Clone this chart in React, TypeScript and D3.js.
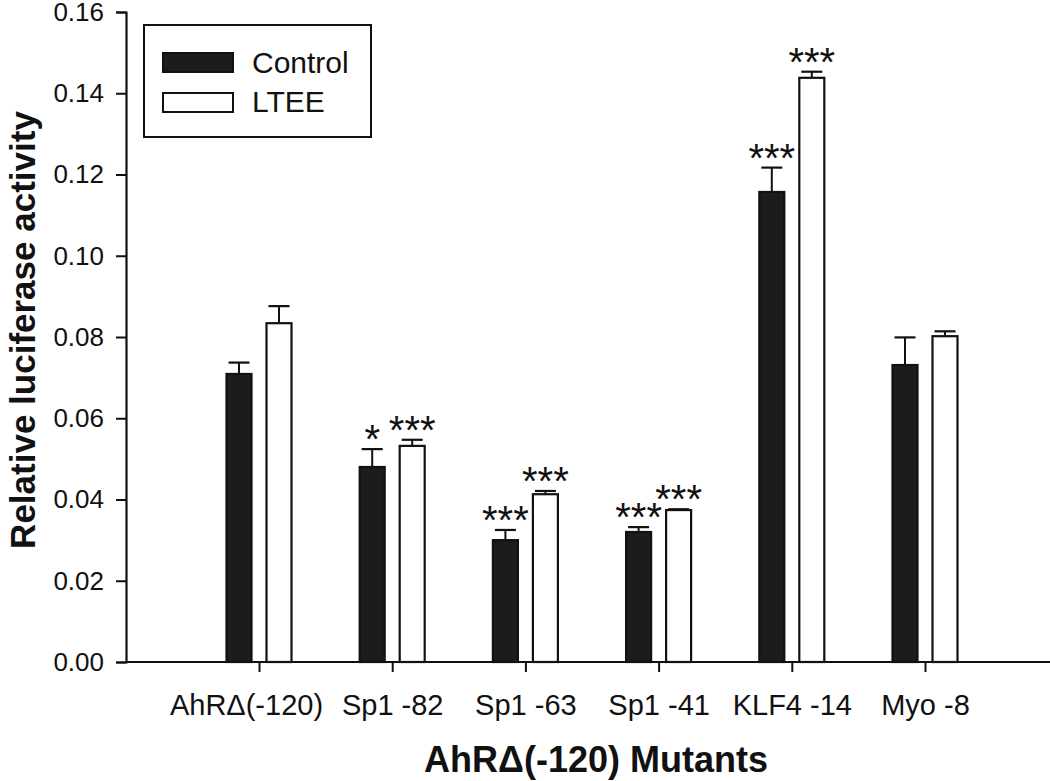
import React, { useRef, useEffect } from "react";
import * as d3 from "d3";

// data
const categories = ["AhRΔ(-120)", "Sp1 -82", "Sp1 -63", "Sp1 -41", "KLF4 -14", "Myo -8"];
const seriesNames = ["Control", "LTEE"];
const controlValues = [0.0709, 0.048, 0.030, 0.032, 0.1157, 0.0731];
const controlErrors = [0.0028, 0.0044, 0.0025, 0.0012, 0.006, 0.0068];
const lteeValues = [0.0834, 0.0532, 0.0413, 0.0374, 0.1438, 0.0802];
const lteeErrors = [0.0042, 0.0015, 0.0008, 0.0002, 0.0015, 0.0012];
const controlStars = ["", "*", "***", "***", "***", ""];
const lteeStars = ["", "***", "***", "***", "***", ""];
const yTicks = [0, 0.02, 0.04, 0.06, 0.08, 0.1, 0.12, 0.14, 0.16];

const W = 1050;
const H = 781;
const FONT = "'Liberation Sans', Arial, Helvetica, sans-serif";

const App = () => {
  const svgRef = useRef<SVGSVGElement>(null);

  useEffect(() => {
    const svg = d3.select(svgRef.current);
    svg.selectAll("*").remove();

    const left = 126;
    const right = W;
    const top = 12;
    const bottom = 662;

    const y = d3.scaleLinear().domain([0, 0.16]).range([bottom, top]);
    const x = d3.scalePoint<string>().domain(categories).range([259, 925]);
    const inner = d3
      .scaleBand<string>()
      .domain(seriesNames)
      .range([-32.5, 32.5])
      .paddingInner(0.375);

    const rows = categories.map((c, i) => ({
      cat: c,
      bars: [
        { s: "Control", v: controlValues[i], e: controlErrors[i], star: controlStars[i] },
        { s: "LTEE", v: lteeValues[i], e: lteeErrors[i], star: lteeStars[i] },
      ],
    }));

    // bars
    const groups = svg
      .append("g")
      .selectAll("g")
      .data(rows)
      .enter()
      .append("g")
      .attr("transform", (d) => `translate(${x(d.cat)},0)`);

    const bar = groups
      .selectAll("g")
      .data((d) => d.bars)
      .enter()
      .append("g");

    const cx = (d: { s: string }) => inner(d.s)! + inner.bandwidth() / 2;

    // error bars (upper only)
    bar
      .append("line")
      .attr("x1", cx)
      .attr("x2", cx)
      .attr("y1", (d) => y(d.v))
      .attr("y2", (d) => y(d.v + d.e))
      .attr("stroke", "#111")
      .attr("stroke-width", 2);
    bar
      .append("line")
      .attr("x1", (d) => cx(d) - 10.5)
      .attr("x2", (d) => cx(d) + 10.5)
      .attr("y1", (d) => y(d.v + d.e))
      .attr("y2", (d) => y(d.v + d.e))
      .attr("stroke", "#111")
      .attr("stroke-width", 2.2);

    bar
      .append("rect")
      .attr("x", (d) => inner(d.s)!)
      .attr("y", (d) => y(d.v))
      .attr("width", inner.bandwidth())
      .attr("height", (d) => y(0) - y(d.v))
      .attr("fill", (d) => (d.s === "Control" ? "#1c1c1c" : "#fff"))
      .attr("stroke", "#111")
      .attr("stroke-width", 2.2);

    // significance stars
    bar
      .append("text")
      .attr("x", cx)
      .attr("y", (d) => y(d.v + d.e) + 4)
      .attr("text-anchor", "middle")
      .attr("font-family", FONT)
      .attr("font-size", 40)
      .attr("fill", "#111")
      .text((d) => d.star);

    // y axis
    const yAxis = svg
      .append("g")
      .attr("transform", `translate(${left},0)`)
      .call(
        d3
          .axisLeft(y)
          .tickValues(yTicks)
          .tickSize(10)
          .tickPadding(12)
          .tickFormat(d3.format(".2f"))
      );
    yAxis.select(".domain").attr("stroke", "#111").attr("stroke-width", 2.2);
    yAxis.selectAll(".tick line").attr("stroke", "#111").attr("stroke-width", 2);
    yAxis
      .selectAll(".tick text")
      .attr("font-family", FONT)
      .attr("font-size", 26)
      .attr("fill", "#111");

    // x axis
    svg
      .append("line")
      .attr("x1", left)
      .attr("x2", right)
      .attr("y1", bottom)
      .attr("y2", bottom)
      .attr("stroke", "#111")
      .attr("stroke-width", 2.2);
    const xAxis = svg
      .append("g")
      .attr("transform", `translate(0,${bottom})`)
      .call(d3.axisBottom(x).tickSize(10).tickPadding(22));
    xAxis.select(".domain").remove();
    xAxis.selectAll(".tick line").attr("stroke", "#111").attr("stroke-width", 2);
    xAxis
      .selectAll(".tick text")
      .attr("font-family", FONT)
      .attr("font-size", 29)
      .attr("fill", "#111")
      .attr("dx", (_, i) => (i === 0 ? -13 : 0));

    // axis titles
    svg
      .append("text")
      .attr("x", 596)
      .attr("y", 772)
      .attr("text-anchor", "middle")
      .attr("font-family", FONT)
      .attr("font-weight", "bold")
      .attr("font-size", 36)
      .attr("fill", "#111")
      .text("AhRΔ(-120) Mutants");

    svg
      .append("text")
      .attr("transform", `translate(35,330) rotate(-90)`)
      .attr("text-anchor", "middle")
      .attr("font-family", FONT)
      .attr("font-weight", "bold")
      .attr("font-size", 35)
      .attr("fill", "#111")
      .text("Relative luciferase activity");

    // legend
    const lg = svg.append("g");
    lg.append("rect")
      .attr("x", 144)
      .attr("y", 25)
      .attr("width", 227)
      .attr("height", 112)
      .attr("fill", "#fff")
      .attr("stroke", "#111")
      .attr("stroke-width", 2);
    seriesNames.forEach((s, i) => {
      lg.append("rect")
        .attr("x", 163)
        .attr("y", 53 + i * 40)
        .attr("width", 70)
        .attr("height", 19)
        .attr("fill", i === 0 ? "#1c1c1c" : "#fff")
        .attr("stroke", "#111")
        .attr("stroke-width", 2);
      lg.append("text")
        .attr("x", 252)
        .attr("y", 73 + i * 39)
        .attr("font-family", FONT)
        .attr("font-size", 30)
        .attr("fill", "#111")
        .text(s);
    });
  }, []);

  return (
    <svg
      ref={svgRef}
      width={W}
      height={H}
      style={{ position: "absolute", left: 0, top: 0, background: "#fff" }}
    ></svg>
  );
};

export default App;
